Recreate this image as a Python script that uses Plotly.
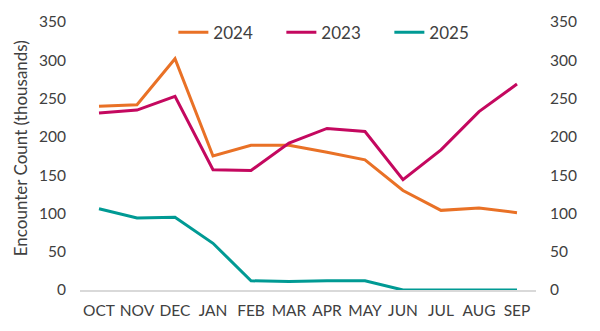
import plotly.graph_objects as go

months = ["OCT", "NOV", "DEC", "JAN", "FEB", "MAR", "APR", "MAY", "JUN", "JUL", "AUG", "SEP"]
y2024 = [240, 242, 302, 175, 189, 189, 180, 170, 130, 104, 107, 101]
y2023 = [231, 235, 253, 157, 156, 192, 211, 207, 144, 183, 233, 269]
y2025 = [106, 94, 95, 61, 12, 11, 12, 12, 0, 0, 0, 0]
yticks = [0, 50, 100, 150, 200, 250, 300, 350]

colors = {"2024": "#E97126", "2023": "#C4085F", "2025": "#009A94"}
font_family = "Lato, Open Sans, sans-serif"
tick_color = "#404040"

fig = go.Figure()
for name, vals in [("2024", y2024), ("2023", y2023), ("2025", y2025)]:
    fig.add_trace(go.Scatter(x=months, y=vals, mode="lines", name=name,
                             line=dict(color=colors[name], width=3)))
# dummy trace for right axis
fig.add_trace(go.Scatter(x=[months[0]], y=[None], yaxis="y2", showlegend=False,
                         hoverinfo="skip", mode="lines"))

fig.update_layout(
    width=600, height=331,
    margin=dict(l=80, r=64, t=13, b=40),
    paper_bgcolor="white", plot_bgcolor="white",
    font=dict(family=font_family, size=15, color=tick_color),
    xaxis=dict(showgrid=False, showline=True, linecolor="#D9D9D9", linewidth=1.5,
               ticks="", tickfont=dict(size=15.5, color=tick_color), range=[-0.5, 11.5],
               ticklabelstandoff=6),
    yaxis=dict(range=[0, 350], tickvals=yticks, showgrid=False, zeroline=False,
               ticks="", tickfont=dict(size=15.5, color=tick_color), ticklabelstandoff=13),
    yaxis2=dict(range=[0, 350], tickvals=yticks, overlaying="y", side="right",
                showgrid=False, zeroline=False, ticks="",
                tickfont=dict(size=15.5, color=tick_color), ticklabelstandoff=13),
    legend=dict(orientation="h", x=0.56, xanchor="center", y=0.96, yanchor="middle",
                entrywidth=63, font=dict(size=17, color=tick_color), bgcolor="rgba(0,0,0,0)"),
    showlegend=True,
    annotations=[dict(text="Encounter Count (thousands)", textangle=-90,
                      xref="paper", yref="paper", x=-0.1316, y=0.529,
                      xanchor="center", yanchor="middle", showarrow=False,
                      font=dict(size=17, color=tick_color))],
)
fig.write_html("out.html")
